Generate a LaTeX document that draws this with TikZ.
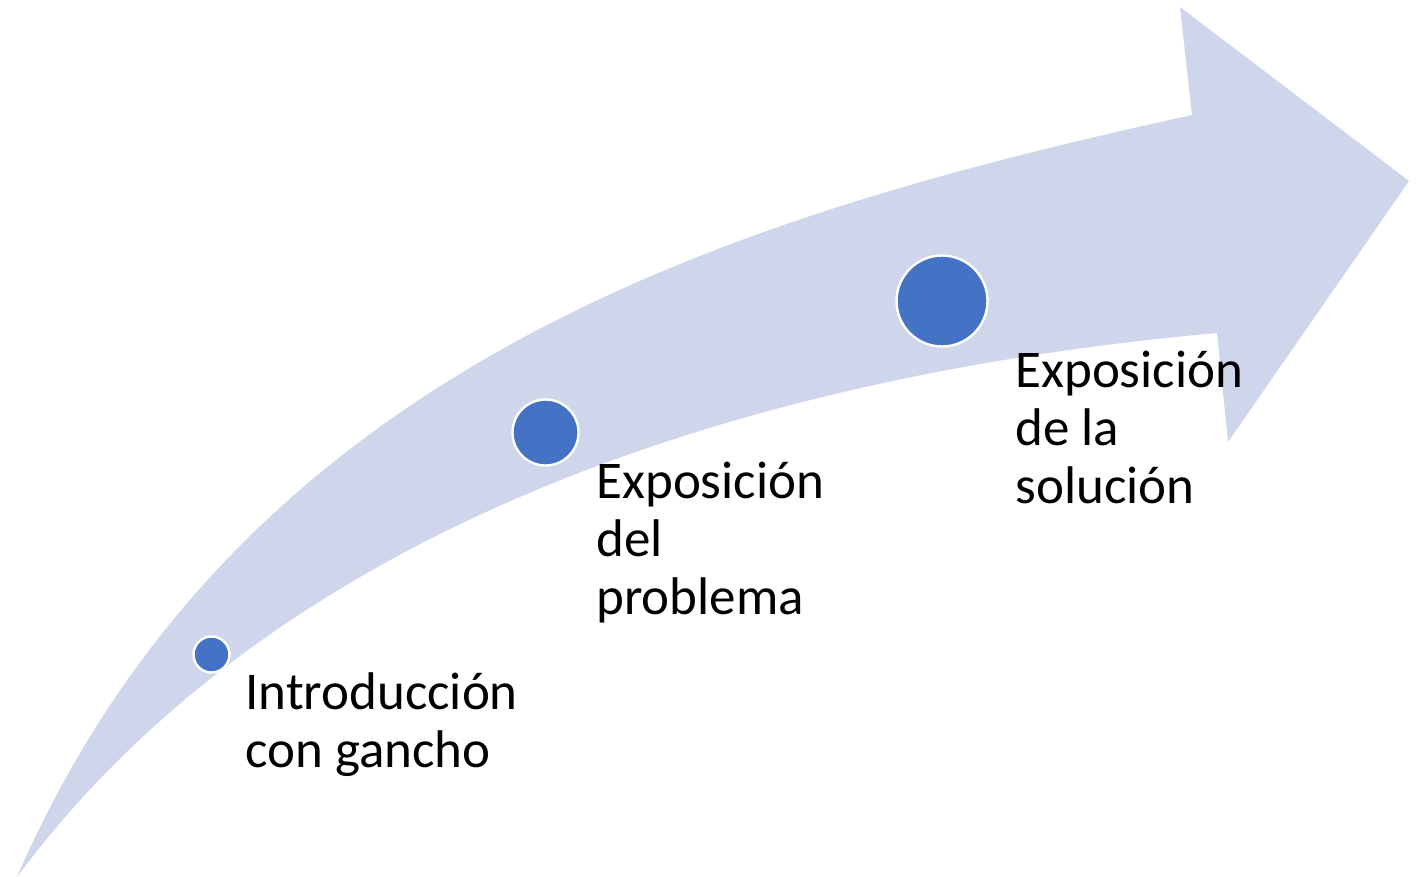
\documentclass[tikz,border=0pt]{standalone}
\usepackage{fontspec}
\setmainfont{Carlito}
\definecolor{bandcol}{HTML}{CFD5EA}
\definecolor{dotcol}{HTML}{4472C4}
\begin{document}
\begin{tikzpicture}[x=0.5pt,y=-0.5pt,
  dot/.style={circle,fill=dotcol,draw=white,line width=1.2pt,inner sep=0pt},
  lbl/.style={anchor=base west,align=left,inner sep=0pt,font=\fontsize{26.5}{29}\selectfont}]
\useasboundingbox (0,0) rectangle (1423,877);
\fill[bandcol] (17,877) .. controls (242,360) and (742,214) .. (1192,115)
  -- (1180,7) -- (1409,181) -- (1228,442) -- (1217,333)
  .. controls (717,378) and (267,540) .. (17,877) -- cycle;
\node[dot,minimum size=18pt] (d1) at (211.5,654.5) {};
\node[dot,minimum size=33pt] (d2) at (545.5,432.5) {};
\node[dot,minimum size=45.5pt] (d3) at (942,301) {};
\node[lbl] (t1) at (245,767) {Introducción\\con gancho};
\node[lbl] (t2) at (596,614) {Exposición\\del\\problema};
\node[lbl] (t3) at (1015,503) {Exposición\\de la\\solución};
\end{tikzpicture}
\end{document}
